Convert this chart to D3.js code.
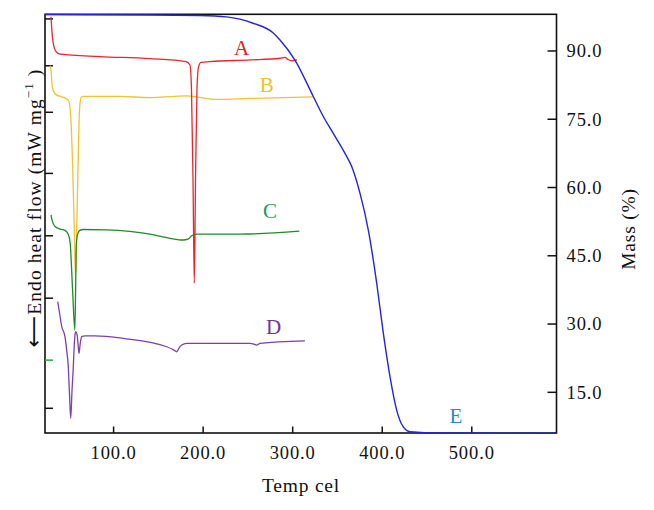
<!DOCTYPE html>
<html><head><meta charset="utf-8">
<script src="https://cdn.jsdelivr.net/npm/d3@7/dist/d3.min.js"></script>
<style>
html,body{margin:0;padding:0;background:#fff;}
svg{display:block;font-family:"Liberation Serif","Times New Roman",serif;}
</style></head>
<body>
<svg id="chart" width="654" height="510"></svg>
<script>
// ---- data (temperature °C, heat flow in arbitrary units, mass %) ----
const tempTicks = [100, 200, 300, 400, 500];
const massTicks = [15, 30, 45, 60, 75, 90];
const heatTicks = [98.9, 87.7, 76.6, 62.0, 47.1, 32.2, 17.4, 5.9];
const heatTickGreen = 17.4;

const curveA_T = [30.1,31.2,32.9,35.7,40.2,84.8,140.6,180.8,185.3,187.0,188.7,190.1,191.5,193.1,194.8,197.6,207.6,252.3,285.8,291.4,294.7,299.2,304.8];
const curveA_V = [99.4,95.8,92.7,91.1,90.5,89.9,89.4,88.7,87.9,81.9,60.4,35.8,60.4,81.9,87.4,88.5,88.7,89.1,89.5,89.7,89.2,88.9,89.1];

const curveB_T = [29.0,30.1,31.5,33.4,36.5,42.0,49.4,51.4,54.3,56.1,57.4,58.8,60.3,61.9,63.6,65.8,107.1,140.6,168.6,181.6,192.8,211.0,252.3,322.7];
const curveB_V = [87.7,86.7,82.7,81.4,80.7,80.3,79.5,77.6,63.6,48.5,37.3,48.5,63.6,77.1,80.0,80.4,80.4,80.1,80.4,80.5,80.3,79.7,79.9,80.3];

const curveC_T = [30.1,31.2,34.6,40.2,45.7,49.2,51.4,54.2,56.7,57.6,58.4,59.8,62.3,66.0,92.3,140.6,163.0,177.8,183.1,187.2,192.8,241.1,307.4];
const curveC_V = [52.1,50.9,49.3,48.7,48.4,47.5,45.6,34.2,24.6,34.2,44.9,47.5,48.4,48.6,48.5,47.5,46.5,46.1,46.3,47.1,47.5,47.5,48.2];

const curveD_T = [37.6,39.1,42.1,45.7,47.6,49.4,50.8,52.1,53.6,55.0,55.8,56.9,57.7,59.1,60.2,61.4,62.8,64.4,68.1,79.2,110.8,159.3,167.4,170.5,173.0,176.0,181.6,252.3,255.7,259.8,263.5,313.7];
const curveD_V = [31.4,29.4,25.4,23.0,19.8,15.8,9.1,3.5,10.3,15.8,19.8,23.4,24.2,23.6,21.5,19.0,21.5,23.0,23.2,23.2,22.6,20.6,19.8,19.4,20.3,21.0,21.4,21.4,21.3,21.0,21.4,22.0];

const massT = [23.4,140.6,196.5,226.3,255.7,278.0,285.8,302.5,323.0,334.2,345.3,358.4,365.9,375.2,384.4,393.8,401.2,408.7,416.1,423.5,431.0,464.5,594.6];
const massV = [98.0,97.9,97.8,97.5,96.1,94.0,92.4,88.0,80.0,75.6,71.9,67.5,64.6,58.7,50.7,39.0,28.0,18.4,11.1,7.4,6.35,6.06,6.0];

const seriesLabels = ["A","B","C","D","E"];
const labelPos = [[242.8,90.3],[271.0,81.5],[274.6,51.3],[278.8,23.6],[482.4,8.3]]; // [temp, heat units (A–D) / mass % (E)]

// ---- layout ----
const svg = d3.select("#chart");
const L = 45, R = 556.5, T = 14.3, B = 433;
const x = d3.scaleLinear().domain([23.4, 594.6]).range([L, R]);
const yHeat = d3.scaleLinear().domain([0, 100]).range([B, T]);
const yMass = d3.scaleLinear().domain([6.06, 98.06]).range([B, T]);

const colors = {A:"#e8262c", B:"#f2c230", C:"#1f8a2a", D:"#7b3fae", E:"#2424dc"};
const labelColors = {A:"#e41f26", B:"#ecc12a", C:"#1f9a5a", D:"#6e34a0", E:"#2a86cc"};

// frame
svg.append("rect").attr("x", L).attr("y", T).attr("width", R - L).attr("height", B - T)
  .attr("fill", "none").attr("stroke", "#111").attr("stroke-width", 1.6);

// bottom axis ticks (inward)
const gx = svg.append("g");
gx.selectAll("line").data(tempTicks).enter().append("line")
  .attr("x1", d => x(d)).attr("x2", d => x(d)).attr("y1", B).attr("y2", B - 6.5)
  .attr("stroke", "#111").attr("stroke-width", 1.5);
gx.selectAll("text").data(tempTicks).enter().append("text")
  .attr("x", d => x(d)).attr("y", 458.5).attr("text-anchor", "middle")
  .attr("font-size", 18.5).attr("letter-spacing", 0.9).attr("fill", "#111")
  .text(d => d.toFixed(1));

// right axis
const gr = svg.append("g");
gr.selectAll("line").data(massTicks).enter().append("line")
  .attr("x1", R).attr("x2", R - 9).attr("y1", d => yMass(d)).attr("y2", d => yMass(d))
  .attr("stroke", "#111").attr("stroke-width", 1.5);
gr.selectAll("text").data(massTicks).enter().append("text")
  .attr("x", 566.5).attr("y", d => yMass(d) + 6.3)
  .attr("font-size", 18.5).attr("letter-spacing", 0.9).attr("fill", "#111")
  .text(d => d.toFixed(1));

// left axis ticks (no labels)
const gl = svg.append("g");
gl.selectAll("line").data(heatTicks).enter().append("line")
  .attr("x1", L).attr("x2", L + 8).attr("y1", d => yHeat(d)).attr("y2", d => yHeat(d))
  .attr("stroke", d => d === heatTickGreen ? "#22aa33" : "#111").attr("stroke-width", 1.5);

// axis titles
svg.append("text").attr("x", 301).attr("y", 491.5).attr("text-anchor", "middle")
  .attr("font-size", 19.5).attr("letter-spacing", 0.8).attr("fill", "#111").text("Temp cel");

svg.append("text").attr("transform", "translate(635,229) rotate(-90)")
  .attr("text-anchor", "middle").attr("font-size", 19.5).attr("letter-spacing", 0.8)
  .attr("fill", "#111").text("Mass (%)");

const ylab = svg.append("text").attr("transform", "translate(41,208) rotate(-90)")
  .attr("text-anchor", "middle").attr("font-size", 19.5).attr("letter-spacing", 1.1).attr("fill", "#111");
ylab.append("tspan").attr("font-family", "DejaVu Sans").attr("font-size", 22).text("\u27F5");
ylab.append("tspan").text("Endo heat flow (mW mg");
ylab.append("tspan").attr("font-size", 13).attr("dy", -8).text("\u22121");
ylab.append("tspan").attr("dy", 8).text(" )");

// curves
const lineHeat = d3.line().x(d => x(d[0])).y(d => yHeat(d[1])).curve(d3.curveMonotoneX);
const lineMass = d3.line().x(d => x(d[0])).y(d => yMass(d[1])).curve(d3.curveMonotoneX);
const zip = (a, b) => a.map((v, i) => [v, b[i]]);

const heatSeries = [
  ["B", zip(curveB_T, curveB_V)],
  ["C", zip(curveC_T, curveC_V)],
  ["D", zip(curveD_T, curveD_V)],
  ["A", zip(curveA_T, curveA_V)]
];
svg.append("g").selectAll("path").data(heatSeries).enter().append("path")
  .attr("d", d => lineHeat(d[1])).attr("fill", "none")
  .attr("stroke", d => colors[d[0]]).attr("stroke-width", 1.3);

svg.append("path").attr("d", lineMass(zip(massT, massV))).attr("fill", "none")
  .attr("stroke", colors.E).attr("stroke-width", 1.4);

// series labels
svg.append("g").selectAll("text").data(seriesLabels).enter().append("text")
  .attr("x", (d, i) => x(labelPos[i][0]))
  .attr("y", (d, i) => d === "E" ? yMass(labelPos[i][1]) : yHeat(labelPos[i][1]))
  .attr("text-anchor", "middle").attr("font-size", 21).attr("fill", d => labelColors[d])
  .text(d => d);
</script>
</body></html>
